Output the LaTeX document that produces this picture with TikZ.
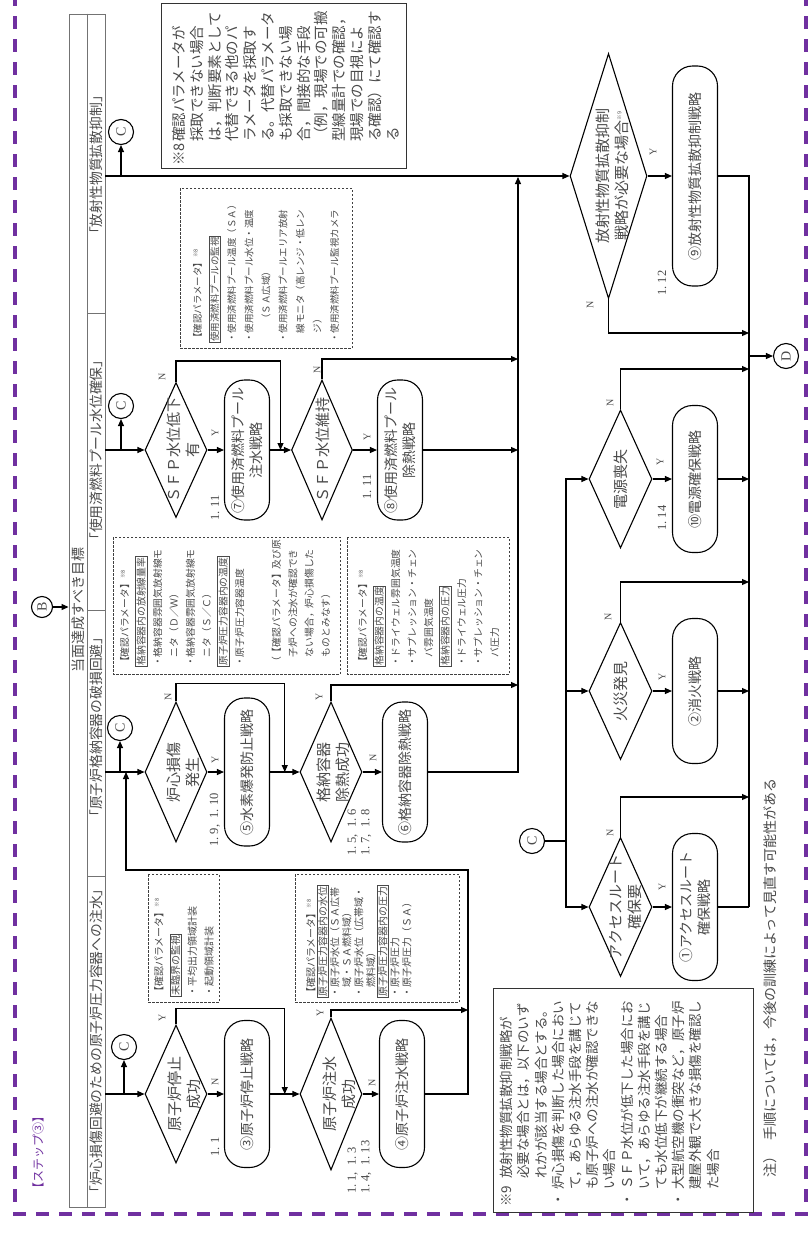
\documentclass[tikz,border=0pt]{standalone}
\usepackage{fontspec}
\setmainfont{Noto Sans CJK JP}
\newfontfamily\latf{Liberation Serif}
\usetikzlibrary{arrows.meta,shapes.geometric,calc}
\definecolor{purp}{HTML}{7030A0}
\definecolor{txt}{HTML}{4A4A4A}
\newcommand{\myfs}[2]{\fontsize{#1}{#2}\selectfont}
\newcommand{\pbx}[1]{{\setlength{\fboxsep}{0.8pt}\setlength{\fboxrule}{0.5pt}\fbox{#1}}}
\newcommand{\rsup}[1]{\raisebox{0.7ex}{\myfs{5.5}{6}#1}}
\begin{document}
\begin{tikzpicture}[x=1pt,y=-1pt,
  every node/.append style={rotate=90, text=txt},
  conn/.style={line width=1.1pt, draw=black},
  arr/.style={conn, -{Triangle[length=7pt,width=6pt]}},
  dia/.style={draw=black, line width=1.1pt, diamond, inner sep=0pt},
  dtext/.style={font=\myfs{15}{19}, align=center, inner sep=0pt},
  rbox/.style={draw=black, line width=1.1pt, rounded corners=20pt, inner sep=0pt, minimum height=45pt, align=center, font=\myfs{14}{17.5}},
  cir/.style={draw=black, circle, line width=1.1pt, inner sep=0pt, minimum size=25pt, font=\latf\myfs{14}{14}},
  yn/.style={font=\latf\myfs{10}{10}, inner sep=0pt},
  num/.style={font=\latf\myfs{12.5}{13.5}, inner sep=0pt, align=left},
  pbox/.style={draw=black!75, dash pattern=on 2.5pt off 1.5pt, line width=0.6pt, inner sep=0pt},
  ptext/.style={inner sep=0pt, anchor=north west, align=left},
  nbox/.style={draw=black!80, line width=0.9pt, inner sep=0pt},
  hdrtext/.style={font=\myfs{13.8}{14}, inner sep=0pt},
  hdrline/.style={draw=black!55, line width=0.9pt},
]
\useasboundingbox (0,0) rectangle (811,1237);
\clip (0,0) rectangle (811,1237);
\fill[white] (0,0) rectangle (811,1237);

% outer purple border
\draw[purp, line width=3.5pt, dash pattern=on 13pt off 10pt] (15,-30) -- (15,1214) -- (806,1214) -- (806,-30);
\node[font=\myfs{12}{12}, text=purp, inner sep=0pt] (step) at (38,1152) {【ステップ③】};

% header column
\node[draw=black!55, line width=0.9pt, minimum width=1193pt, minimum height=36pt, inner sep=0pt] (hdr) at (87,610.5) {};
\draw[hdrline] (hdr.east) -- (hdr.west);
\draw[hdrline] (87,313) -- (105,313);
\draw[hdrline] (87,610) -- (105,610);
\draw[hdrline] (87,876) -- (105,876);
\node[hdrtext, font=\myfs{14}{14}] (goal) at (78,610) {当面達成すべき目標};
\node[hdrtext] (h4) at (96,165) {「放射性物質拡散抑制」};
\node[hdrtext] (h3) at (96,450) {「使用済燃料プール水位確保」};
\node[hdrtext] (h2) at (96,727) {「原子炉格納容器の破損回避」};
\node[hdrtext] (h1) at (96,1041) {「炉心損傷回避のための原子炉圧力容器への注水」};

\node[cir, minimum size=21pt] (B) at (42,607) {B};
\draw[arr] (B) -- (hdr.north |- B);

% ---------- category 1
\node[dia, minimum width=138pt, minimum height=62pt] (d1) at (176,1094) {};
\node[dtext] (d1t) at (184,1094) {原子炉停止\\成功};
\node[rbox, minimum width=147pt] (b3) at (247,1094) {③原子炉停止戦略};
\node[dia, minimum width=152pt, minimum height=62pt] (d2) at (331,1094) {};
\node[dtext] (d2t) at (339,1094) {原子炉注水\\成功};
\node[rbox, minimum width=147pt] (b4) at (402,1094) {④原子炉注水戦略};
\node[cir] (c1) at (124,1047) {C};

\coordinate (m1) at ($(b3.south)!.5!(d2.north)$);
\coordinate (j1y) at (468,1010);
\coordinate (j1top) at (468,870);
\coordinate (lp2) at (126,772);

\draw[arr] (hdr.south |- d1) -- (d1.north);
\draw[arr] (c1 |- d1) -- (c1);
\draw[arr] (d1.south) -- (b3.north);
\draw[arr] (d1.east) -- ++(0,-16) -| (m1);
\draw[arr] (b3.south) -- (d2.north);
\draw[arr] (d2.south) -- (b4.north);
\draw[arr] (d2.east) |- (j1y);
\draw[arr] (b4.south) -| (j1top) -| (lp2);

\node[yn] (y1) at (162,1018) {Y};
\node[yn] (n1) at (215,1082) {N};
\node[yn] (y2) at (320,1013) {Y};
\node[yn] (n2) at (372,1083) {N};
\node[num] (l1) at (215,1147) {1.\ 1};
\node[num, anchor=west] (l2) at (359.5,1194) {1.\ 1,\ \ 1.\ 3\\1.\ 4,\ \ 1.\ 13};

\node[pbox, minimum width=128pt, minimum height=71pt] (pA) at (183.5,938) {};
\node[ptext, font=\myfs{10}{16.7}] (pAt) at (154,997) {【確認パラメータ】\rsup{※8}\\
\pbx{未臨界の監視}\\
・平均出力領域計装\\
・起動領域計装};

\node[pbox, minimum width=128pt, minimum height=164pt] (pB) at (377,938) {};
\node[ptext, font=\myfs{10}{12}] (pBt) at (306,998) {【確認パラメータ】\rsup{※8}\\
\pbx{原子炉圧力容器内の水位}\\
・原子炉水位（ＳＡ広帯\\
\hspace*{1em}域・ＳＡ燃料域）\\
・原子炉水位（広帯域・\\
\hspace*{1em}燃料域）\\
\pbx{原子炉圧力容器内の圧力}\\
・原子炉圧力\\
・原子炉圧力（ＳＡ）};

% ---------- category 2
\node[dia, minimum width=140pt, minimum height=62pt] (d3) at (176,772) {};
\node[dtext] (d3t) at (183,772) {炉心損傷\\発生};
\node[rbox, minimum width=148pt] (b5) at (247,772) {⑤水素爆発防止戦略};
\node[dia, minimum width=140pt, minimum height=62pt] (d4) at (331,772) {};
\node[dtext] (d4t) at (333,772) {格納容器\\除熱成功};
\node[rbox, minimum width=140pt] (b6) at (405,772) {⑥格納容器除熱戦略};
\node[cir] (c2) at (120,728) {C};

\coordinate (m2) at ($(b5.south)!.5!(d4.north)$);
\coordinate (c2y) at (518,685);
\coordinate (c2top) at (518,177);

\draw[arr] (hdr.south |- d3) -- (d3.north);
\draw[arr] (c2 |- d3) -- (c2);
\draw[arr] (d3.south) -- (b5.north);
\draw[arr] (d3.east) -- ++(0,-18) -| (m2);
\draw[arr] (b5.south) -- (d4.north);
\draw[arr] (d4.south) -- (b6.north);
\draw[arr] (d4.east) |- (c2y);
\draw[arr] (b6.south) -| (c2top);

\node[yn] (n3) at (168,697) {N};
\node[yn] (y3) at (215,760) {Y};
\node[yn] (y4) at (319,697) {Y};
\node[yn] (n4) at (373,758) {N};
\node[num] (l3) at (215,820) {1.\ 9,\ \ 1.\ 10};
\node[num, anchor=west] (l4) at (359.5,856) {1.\ 5,\ \ 1.\ 6\\1.\ 7,\ \ 1.\ 8};

\node[pbox, minimum width=137pt, minimum height=227pt] (pC) at (226.5,605.5) {};
\node[ptext, font=\myfs{9.8}{16.4}] (pCt) at (120,667) {【確認パラメータ】\rsup{※8}\\
\pbx{格納容器内の放射線量率}\\
・格納容器雰囲気放射線モ\\
\hspace*{1em}ニタ（Ｄ／Ｗ）\\
・格納容器雰囲気放射線モ\\
\hspace*{1em}ニタ（Ｓ／Ｃ）\\
\pbx{原子炉圧力容器内の温度}\\
・原子炉圧力容器温度\\[20.5pt]
（【確認パラメータ】及び原\\
\hspace*{1em}子炉への注水が確認でき\\
\hspace*{1em}ない場合，炉心損傷した\\
\hspace*{1em}ものとみなす）};

\node[pbox, minimum width=137pt, minimum height=162pt] (pD) at (428,605.5) {};
\node[ptext, font=\myfs{9.8}{16.5}] (pDt) at (358,667) {【確認パラメータ】\rsup{※8}\\
\pbx{格納容器内の温度}\\
・ドライウェル雰囲気温度\\
・サプレッション・チェン\\
\hspace*{1em}バ雰囲気温度\\
\pbx{格納容器内の圧力}\\
・ドライウェル圧力\\
・サプレッション・チェン\\
\hspace*{1em}バ圧力};

% ---------- category 3
\node[dia, minimum width=135pt, minimum height=62pt] (d5) at (176,450) {};
\node[dtext] (d5t) at (183,450) {ＳＦＰ水位低下\\有};
\node[rbox, minimum width=140pt] (b7) at (247,450) {⑦使用済燃料プール\\注水戦略};
\node[dia, minimum width=140pt, minimum height=61pt] (d6) at (322,450) {};
\node[dtext] (d6t) at (323,450) {ＳＦＰ水位維持};
\node[rbox, minimum width=140pt] (b8) at (400,450) {⑧使用済燃料プール\\除熱戦略};
\node[cir] (c3) at (121,406) {C};

\coordinate (m3) at ($(b7.south)!.5!(d6.north)$);
\coordinate (c3y) at (518,359);
\coordinate (c3x) at (518,450);

\draw[arr] (hdr.south |- d5) -- (d5.north);
\draw[arr] (c3 |- d5) -- (c3);
\draw[arr] (d5.south) -- (b7.north);
\draw[arr] (d5.east) -- ++(0,-21) -| (m3);
\draw[arr] (b7.south) -- (d6.north);
\draw[arr] (d6.south) -- (b8.north);
\draw[arr] (d6.east) |- (c3y);
\draw[arr] (b8.south) -- (c3x);

\node[yn] (n5) at (162,377) {N};
\node[yn] (y5) at (215,433) {Y};
\node[yn] (n6) at (317,370) {N};
\node[yn] (y6) at (367,437) {Y};
\node[num] (l5) at (215,508) {1.\ 11};
\node[num] (l6) at (367,487) {1.\ 11};

\node[pbox, minimum width=160pt, minimum height=172pt] (pE) at (266,268) {};
\node[ptext, font=\myfs{9.5}{17.1}] (pEt) at (193,343) {【確認パラメータ】\rsup{※8}\\
\pbx{使用済燃料プールの監視}\\
・使用済燃料プール温度（ＳＡ）\\
・使用済燃料プール水位・温度\\
\hspace*{2em}（ＳＡ広域）\\
・使用済燃料プールエリア放射\\
\hspace*{1em}線モニタ（高レンジ・低レン\\
\hspace*{1em}ジ）\\
・使用済燃料プール監視カメラ};

% ---------- category 4
\node[dia, minimum width=245pt, minimum height=77pt] (d7) at (608.5,176) {};
\node[dtext] (d7t) at (612,176) {放射性物質拡散抑制\\戦略が必要な場合\rsup{※9}};
\node[rbox, minimum width=220pt] (b9) at (695,176) {⑨放射性物質拡散抑制戦略};
\node[cir] (c4) at (121,132) {C};
\node[cir] (D) at (786,356) {D};

\coordinate (e1) at (749,333);
\coordinate (ed) at (749,356);
\coordinate (e2) at (749,369);
\coordinate (e3) at (749,479);
\coordinate (e4) at (749,582);
\coordinate (e5) at (749,691);
\coordinate (e6) at (749,797);
\coordinate (ebot) at (749,907);

\draw[arr] (hdr.south |- d7) -- (d7.north);
\draw[arr] (c4 |- d7) -- (c4);
\draw[arr] (d7.south) -- (b9.north);
\draw[arr] (d7.west) |- (e1);
\draw[conn] (b9.south) -| (ebot);
\draw[arr] (ed) -- (D);

\node[yn] (y7) at (653,152) {Y};
\node[yn] (n7) at (590,305) {N};
\node[num] (l7) at (662,283) {1.\ 12};

% ---------- common (C) strategies
\node[cir] (cC) at (532,841) {C};
\node[dia, minimum width=138pt, minimum height=63pt] (dP) at (620.5,479) {};
\node[dtext] (dPt) at (621,479) {電源喪失};
\node[rbox, minimum width=147pt] (b10) at (695,479) {⑩電源確保戦略};
\node[dia, minimum width=137pt, minimum height=63pt] (dF) at (620.5,691) {};
\node[dtext] (dFt) at (621,691) {火災発見};
\node[rbox, minimum width=145pt] (b2) at (695,691) {②消火戦略};
\node[dia, minimum width=139pt, minimum height=63pt] (dA) at (620.5,907) {};
\node[dtext] (dAt) at (626,907) {アクセスルート\\確保要};
\node[rbox, minimum width=147pt] (b1) at (695,907) {①アクセスルート\\確保戦略};

\coordinate (v) at (566,841);
\draw[conn] (cC) -- (v);
\draw[arr] (v) |- (dA.north);
\draw[arr] (v) |- (dF.north);
\draw[arr] (v) |- (dP.north);
\draw[arr] (dP.south) -- (b10.north);
\draw[arr] (dF.south) -- (b2.north);
\draw[arr] (dA.south) -- (b1.north);
\draw[arr] (dP.east) |- (e2);
\draw[arr] (dF.east) |- (e4);
\draw[arr] (dA.east) |- (e6);
\draw[arr] (b10.south) -- (e3);
\draw[arr] (b2.south) -- (e5);
\draw[conn] (b1.south) -- (ebot);

\node[yn] (nP) at (610,403) {N};
\node[yn] (yP) at (660,462) {Y};
\node[yn] (nF) at (608,617) {N};
\node[yn] (yF) at (662,677) {Y};
\node[yn] (nA) at (610,833) {N};
\node[yn] (yA) at (662,887) {Y};
\node[num] (l8) at (662,518) {1.\ 14};

% ---------- notes
\node[nbox, minimum width=165pt, minimum height=245pt] (note8) at (283.5,85.5) {};
\node[ptext, font=\myfs{14.5}{17.8}] (note8t) at (172,166) {\makebox[24pt][l]{※8}確認パラメータが\\
\hspace*{24pt}採取できない場合\\
\hspace*{24pt}は，判断要素として\\
\hspace*{24pt}代替できる他のパ\\
\hspace*{24pt}ラメータを採取す\\
\hspace*{24pt}る。代替パラメータ\\
\hspace*{24pt}も採取できない場\\
\hspace*{24pt}合，間接的な手段\\
\hspace*{24pt}（例，現場での可搬\\
\hspace*{24pt}型線量計での確認，\\
\hspace*{24pt}現場での目視によ\\
\hspace*{24pt}る確認）にて確認す\\
\hspace*{24pt}る};

\node[nbox, minimum width=224pt, minimum height=260pt] (note9) at (623,1100) {};
\node[ptext, font=\myfs{13.5}{17.2}] (note9t) at (500,1207) {\makebox[28pt][l]{※9}放射性物質拡散抑制戦略が\\
\hspace*{28pt}必要な場合とは，以下のいず\\
\hspace*{28pt}れかが該当する場合とする。\\
\makebox[17pt][l]{・}炉心損傷を判断した場合におい\\
\hspace*{17pt}て，あらゆる注水手段を講じて\\
\hspace*{17pt}も原子炉への注水が確認できな\\
\hspace*{17pt}い場合\\
\makebox[17pt][l]{・}ＳＦＰ水位が低下した場合にお\\
\hspace*{17pt}いて，あらゆる注水手段を講じ\\
\hspace*{17pt}ても水位低下が継続する場合\\
\makebox[17pt][l]{・}大型航空機の衝突など，原子炉\\
\hspace*{17pt}建屋外観で大きな損傷を確認し\\
\hspace*{17pt}た場合};

\node[font=\myfs{14}{14}, inner sep=0pt] (chu) at (770,978) {注）\hspace{0.6em}手順については，今後の訓練によって見直す可能性がある};
\end{tikzpicture}
\end{document}
